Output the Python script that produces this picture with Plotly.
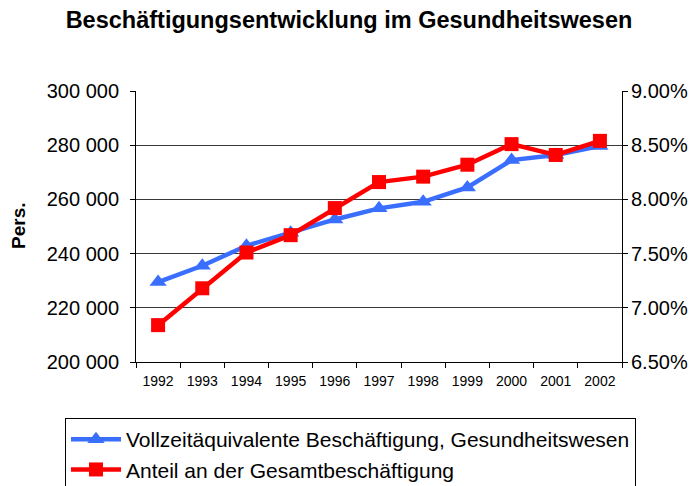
import plotly.graph_objects as go

years = ["1992", "1993", "1994", "1995", "1996", "1997", "1998", "1999", "2000", "2001", "2002"]
vollzeit = [229500, 235500, 242900, 247700, 252600, 256700, 259100, 264400, 274500, 276400, 279700]
anteil = [0.0684, 0.0718, 0.0751, 0.0767, 0.0792, 0.0816, 0.0821, 0.0832, 0.0851, 0.0841, 0.0854]
left_ticks = [200000, 220000, 240000, 260000, 280000, 300000]
right_ticks = [0.065, 0.070, 0.075, 0.080, 0.085, 0.090]

FONT = "Liberation Sans, Arial, sans-serif"
W, H = 697, 486
OFF = 8  # page offset of the figure inside the browser window
PW, PH = 486, 271
L = 136 - OFF
T = 91 - OFF
R = W - L - PW
B = H - T - PH


def px_x(x):
    return (x - OFF - L) / PW


def px_y(y):
    return (H - B - (y - OFF)) / PH


fig = go.Figure()
fig.add_trace(go.Scatter(
    x=years, y=vollzeit, name="Vollzeitäquivalente Beschäftigung, Gesundheitswesen",
    mode="lines+markers",
    line=dict(color="#3A6EFF", width=4.5),
    marker=dict(symbol="triangle-up", size=15, color="#3A6EFF"),
    yaxis="y", legendgroup="a",
))
fig.add_trace(go.Scatter(
    x=years, y=anteil, name="Anteil an der Gesamtbeschäftigung",
    mode="lines+markers",
    line=dict(color="#FF0000", width=4.5),
    marker=dict(symbol="square", size=14, color="#FF0000"),
    yaxis="y2", legendgroup="b",
))

fig.update_layout(
    width=W, height=H,
    margin=dict(l=L, r=R, t=T, b=B, autoexpand=False),
    paper_bgcolor="white", plot_bgcolor="white",
    separators=". ",
    font=dict(family=FONT, color="black", size=16),
    title=dict(text="<b>Beschäftigungsentwicklung im Gesundheitswesen</b>",
               x=(349 - OFF) / W, xanchor="center", y=1 - (20 - OFF) / H, yanchor="middle",
               font=dict(size=23.5, family=FONT, color="black")),
    xaxis=dict(type="category", range=[-0.5, len(years) - 0.5],
               tickson="boundaries", ticks="outside", ticklen=5,
               tickcolor="black", showline=True, linecolor="black", linewidth=1,
               showgrid=False, tickfont=dict(size=14), tickangle=0, ticklabelstandoff=6,
               automargin=False),
    yaxis=dict(range=[200000, 300000], tickvals=left_ticks, tickformat=",d",
               ticks="outside", ticklen=5, tickcolor="black",
               showline=True, linecolor="black", linewidth=1,
               showgrid=True, gridcolor="#3a3a3a", gridwidth=1,
               zeroline=False, tickfont=dict(size=20), ticklabelstandoff=7,
               automargin=False),
    yaxis2=dict(range=[0.065, 0.09], tickvals=right_ticks, tickformat=".2%",
                overlaying="y", side="right", anchor="x",
                ticks="outside", ticklen=5, tickcolor="black",
                showline=True, linecolor="black", linewidth=1,
                showgrid=False, zeroline=False, tickfont=dict(size=20),
                ticklabelstandoff=-1, automargin=False),
    legend=dict(x=px_x(65), y=px_y(418), xanchor="left", yanchor="top",
                bordercolor="black", borderwidth=1, bgcolor="white",
                font=dict(size=21), tracegroupgap=0, itemwidth=50),
    annotations=[dict(text="<b>Pers.</b>", xref="paper", yref="paper",
                      x=px_x(18), y=px_y(226), xanchor="center", yanchor="middle",
                      textangle=-90, showarrow=False, font=dict(size=19, family=FONT, color="black"))],
    showlegend=True,
)

fig.write_html("out.html")
